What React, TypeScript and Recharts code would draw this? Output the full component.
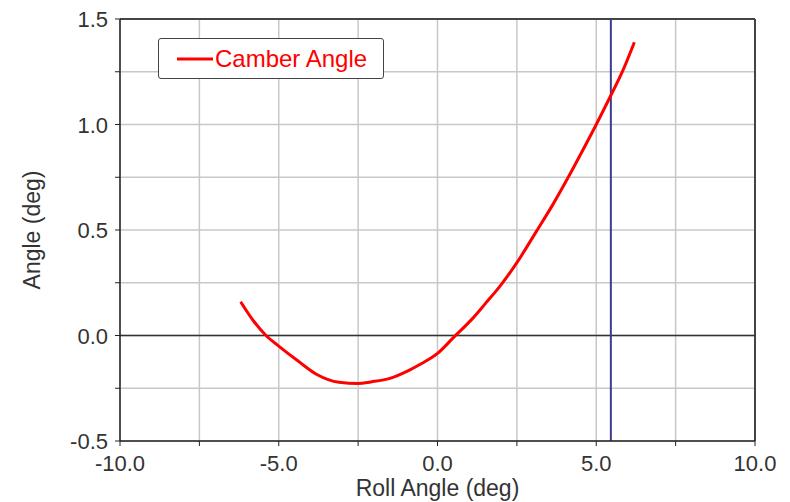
import React from 'react';
import {
  LineChart,
  Line,
  XAxis,
  YAxis,
  CartesianGrid,
  ReferenceLine,
  Legend,
} from 'recharts';

// roll sweep
const rollAngle = [
  -6.2, -5.8, -5.4, -5.0, -4.4, -3.8, -3.1, -2.5, -2.1, -1.5, -0.9, -0.5, 0.0, 0.5,
  1.1, 1.5, 2.0, 2.5, 3.1, 3.65, 4.1, 4.6, 5.0, 5.45, 5.85, 6.2,
];
const camberAngle = [
  0.16, 0.07, 0.0, -0.05, -0.12, -0.185, -0.222, -0.228, -0.22, -0.203, -0.165, -0.133,
  -0.085, -0.01, 0.08, 0.15, 0.24, 0.345, 0.49, 0.625, 0.745, 0.885, 1.0, 1.135,
  1.26, 1.39,
];

const xTicks = [-10, -7.5, -5, -2.5, 0, 2.5, 5, 7.5, 10];
const yTicks = [-0.5, -0.25, 0, 0.25, 0.5, 0.75, 1, 1.25, 1.5];
const cursorRoll = 5.46;

const data = rollAngle.map((roll, i) => ({ roll, camber: camberAngle[i] }));

const font = '"Liberation Sans", Arial, sans-serif';
const textColor = '#333';

const XTick = (props: any) => {
  const { x, y, payload } = props;
  if (payload.value % 5 !== 0) return <g />;
  return (
    <text x={x} y={y + 23} textAnchor="middle" fill={textColor} fontSize={22} fontFamily={font}>
      {payload.value.toFixed(1)}
    </text>
  );
};

const YTick = (props: any) => {
  const { x, y, payload } = props;
  if (Math.round(payload.value * 100) % 50 !== 0) return <g />;
  return (
    <text x={x - 5} y={y + 8} textAnchor="end" fill={textColor} fontSize={22} fontFamily={font}>
      {payload.value.toFixed(1)}
    </text>
  );
};

const LegendBox = () => (
  <div
    style={{
      width: 226,
      height: 41,
      boxSizing: 'border-box',
      border: '1.5px solid #444',
      borderRadius: 3,
      background: '#fff',
      display: 'flex',
      alignItems: 'center',
      fontFamily: font,
      fontSize: 24,
      color: '#ff0000',
    }}
  >
    <svg width={56} height={10} style={{ flexShrink: 0 }}>
      <line x1={18} y1={5} x2={54} y2={5} stroke="#ff0000" strokeWidth={3} />
    </svg>
    <span>Camber Angle</span>
  </div>
);

const App: React.FC = () => {
  return (
    <div style={{ position: 'absolute', left: 0, top: 0 }}>
      <LineChart width={790} height={502} data={data} margin={{ top: 19, right: 35, bottom: 0, left: 0 }}>
        <CartesianGrid stroke="#c8c8c8" strokeWidth={1.5} />
        <XAxis
          type="number"
          dataKey="roll"
          domain={[-10, 10]}
          ticks={xTicks}
          height={61}
          tickSize={5}
          tickMargin={2}
          tick={<XTick />}
          axisLine={{ stroke: '#222', strokeWidth: 1.5 }}
          tickLine={{ stroke: '#222' }}
          label={{
            content: (p: any) => {
              const vb = p.viewBox;
              return (
                <text
                  x={vb.x + vb.width / 2}
                  y={vb.y + vb.height - 6}
                  textAnchor="middle"
                  fill={textColor}
                  fontSize={23}
                  fontFamily={font}
                >
                  Roll Angle (deg)
                </text>
              );
            },
          }}
        />
        <YAxis
          type="number"
          domain={[-0.5, 1.5]}
          ticks={yTicks}
          width={120}
          tickSize={5}
          tickMargin={2}
          tick={<YTick />}
          axisLine={{ stroke: '#222', strokeWidth: 1.5 }}
          tickLine={{ stroke: '#222' }}
          label={{
            content: (p: any) => {
              const vb = p.viewBox;
              const cx = vb.x + 40;
              const cy = vb.y + vb.height / 2;
              return (
                <text
                  x={cx}
                  y={cy}
                  transform={`rotate(-90 ${cx} ${cy})`}
                  textAnchor="middle"
                  fill={textColor}
                  fontSize={23}
                  fontFamily={font}
                >
                  Angle (deg)
                </text>
              );
            },
          }}
        />
        <ReferenceLine y={1.5} stroke="#444" strokeWidth={2} />
        <ReferenceLine x={10} stroke="#444" strokeWidth={2} />
        <ReferenceLine y={0} stroke="#333" strokeWidth={1.5} />
        <ReferenceLine x={cursorRoll} stroke="#3c3c8e" strokeWidth={2} />
        <Legend
          layout="vertical"
          align="center"
          verticalAlign="middle"
          wrapperStyle={{ top: 38, left: 158, width: 226 }}
          content={<LegendBox />}
        />
        <Line
          type="monotone"
          dataKey="camber"
          name="Camber Angle"
          stroke="#ff0000"
          strokeWidth={3}
          dot={false}
          isAnimationActive={false}
        />
      </LineChart>
    </div>
  );
};

export default App;
